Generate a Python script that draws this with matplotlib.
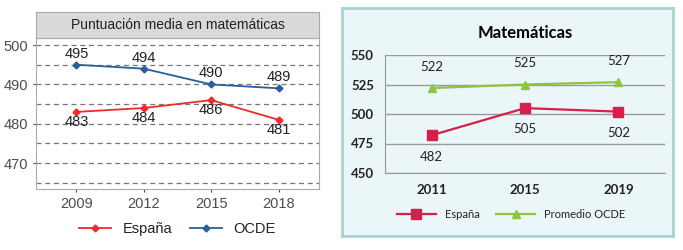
import matplotlib.pyplot as plt

plt.rcParams['font.family'] = ['Liberation Sans', 'DejaVu Sans']

# Panel izquierdo (PISA)
years_a = ['2009', '2012', '2015', '2018']
x_a = [2009, 2012, 2015, 2018]
espana_a = [483, 484, 486, 481]
ocde_a = [495, 494, 490, 489]

# Panel derecho (TIMSS)
years_b = ['2011', '2015', '2019']
espana_b = [482, 505, 502]
ocde_b = [522, 525, 527]
yticks_b = [450, 475, 500, 525, 550]

fig = plt.figure(figsize=(6.83, 2.5), dpi=100)
fig.patch.set_facecolor('white')

gray_txt = '#4d4d4d'

# ---------- izquierda ----------
ax1 = fig.add_axes([0.0527, 0.244, 0.4143, 0.604])
ax1.plot(x_a, espana_a, color='#ee2b2b', marker='D', markersize=3.5, lw=1.3, label='España')
ax1.plot(x_a, ocde_a, color='#2a5e9e', marker='D', markersize=3.5, lw=1.3, label='OCDE')
for x, v in zip(x_a, ocde_a):
    ax1.annotate(str(v), (x, v), xytext=(0, 3), textcoords='offset points',
                 ha='center', va='bottom', fontsize=10.5, color='#222222')
for x, v in zip(x_a, espana_a):
    ax1.annotate(str(v), (x, v), xytext=(0, -2), textcoords='offset points',
                 ha='center', va='top', fontsize=10.5, color='#222222')
ax1.set_xlim(2007.2, 2019.8)
ax1.set_ylim(463.4, 501.8)
ax1.set_xticks(x_a)
ax1.set_xticklabels(years_a)
ax1.set_yticks([470, 480, 490, 500])
for g in range(465, 501, 5):
    ax1.axhline(g, color='#777777', lw=0.9, ls=(0, (4, 3)), zorder=0)
ax1.tick_params(labelsize=10.5, colors=gray_txt, length=2.5)
for s in ax1.spines.values():
    s.set_color('#aaaaaa')
ax1.legend(loc='upper center', bbox_to_anchor=(0.5, -0.13), ncol=2, frameon=False,
           fontsize=10.5, handlelength=2.2, columnspacing=1.2, labelcolor='#222222')

strip = fig.add_axes([0.0527, 0.848, 0.4143, 0.104])
strip.set_facecolor('#d9d9d9')
strip.set_xticks([])
strip.set_yticks([])
for s in strip.spines.values():
    s.set_color('#aaaaaa')
strip.text(0.5, 0.5, 'Puntuación media en matemáticas', ha='center', va='center',
           fontsize=10, color='#222222', transform=strip.transAxes)

# ---------- derecha ----------
bg = fig.add_axes([0.5007, 0.056, 0.4846, 0.912])
bg.set_facecolor('#eaf6f8')
bg.set_xticks([])
bg.set_yticks([])
for s in bg.spines.values():
    s.set_color('#a6d4d4')
    s.set_linewidth(2)

ax2 = fig.add_axes([0.5637, 0.308, 0.41, 0.472])
ax2.set_facecolor('none')
xb = list(range(len(years_b)))
ax2.plot(xb, espana_b, color='#d4204a', marker='s', markersize=7, lw=1.6, label='España')
ax2.plot(xb, ocde_b, color='#8cc63f', marker='^', markersize=6, lw=1.6, label='Promedio OCDE')
for x, v in zip(xb, ocde_b):
    ax2.annotate(str(v), (x, v), xytext=(0, 11), textcoords='offset points',
                 ha='center', va='bottom', fontsize=9.5, color='#222222', family='Lato')
for x, v in zip(xb, espana_b):
    ax2.annotate(str(v), (x, v), xytext=(0, -11), textcoords='offset points',
                 ha='center', va='top', fontsize=9.5, color='#222222', family='Lato')
ax2.set_xlim(-0.5, 2.5)
ax2.set_ylim(450, 550)
ax2.set_yticks(yticks_b)
ax2.set_yticklabels([str(t) for t in yticks_b], family='Lato', fontsize=9.5, fontweight='bold')
ax2.set_xticks(xb)
ax2.set_xticklabels(years_b, family='Lato', fontsize=9.5, fontweight='bold')
ax2.tick_params(axis='y', length=0, pad=8, colors='#222222')
ax2.tick_params(axis='x', length=0, pad=8, colors='#222222')
ax2.grid(axis='y', color='#9a9a9a', lw=1)
ax2.set_axisbelow(True)
ax2.spines['top'].set_visible(False)
ax2.spines['right'].set_visible(False)
ax2.spines['left'].set_color('#9a9a9a')
ax2.spines['bottom'].set_color('#9a9a9a')
ax2.set_title('Matemáticas', family='Lato', fontsize=12, fontweight='bold', pad=12)
ax2.legend(loc='upper center', bbox_to_anchor=(0.45, -0.22), ncol=2, frameon=False,
           prop={'family': 'Lato', 'size': 8}, handlelength=3.5, columnspacing=1.5,
           labelcolor='#222222')

plt.savefig('out.png', dpi=100)
